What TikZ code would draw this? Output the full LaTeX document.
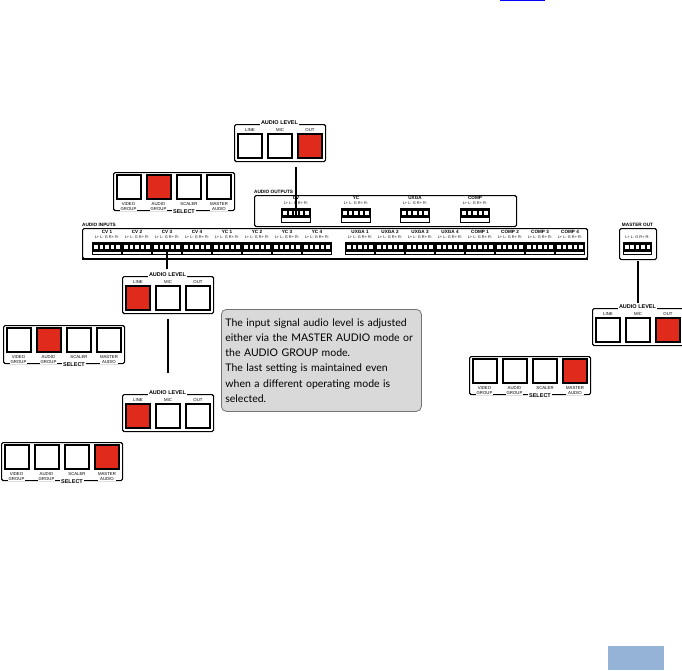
\documentclass[tikz,border=0pt]{standalone}
\usepackage{fontspec}
\setmainfont{Liberation Sans}
\newfontfamily\notefont{Lato}
\definecolor{ledred}{HTML}{E02B1C}
\definecolor{notegray}{HTML}{D9D9D9}
\definecolor{tabblue}{HTML}{95B3D7}
\tikzset{
  panel/.style={draw=black, line width=1.1pt, rounded corners=1.5pt, anchor=north west, inner sep=0pt},
  btn/.style={draw=black, line width=2pt, minimum width=24pt, minimum height=24pt, inner sep=0pt},
  title/.style={fill=white, inner sep=0.8pt, font=\fontsize{5.5}{6}\selectfont\bfseries},
  btnlabel/.style={fill=white, inner sep=0.5pt, align=center, font=\fontsize{4.3}{5.2}\selectfont},
  pinlabel/.style={inner sep=0pt, text=black!90, font=\fontsize{3.9}{4}\selectfont},
  blkname/.style={inner sep=0pt, font=\fontsize{4.6}{5}\selectfont\bfseries},
  frametitle/.style={anchor=west, inner sep=0pt, font=\fontsize{4.7}{5}\selectfont\bfseries},
  wire/.style={draw=black, line width=1.7pt},
  blk/.style={draw=black, line width=0.6pt, fill=white, minimum width=28.5pt, minimum height=12.5pt, inner sep=0pt,
    path picture={
      \fill[black] ([yshift=-10pt]path picture bounding box.north west) rectangle (path picture bounding box.north east);
      \foreach \k in {-2,...,2}
        \fill[white] ([xshift=\k*5.4pt-1.8pt, yshift=-2.8pt]path picture bounding box.north) rectangle ++(3.6,4);
    }},
  note/.style={draw=black!55, line width=0.8pt, fill=notegray, rounded corners=5pt, anchor=north west, inner ysep=0pt, inner xsep=4pt,
    minimum width=200pt, minimum height=102pt, text width=192pt, align=left,
    font=\notefont\fontsize{10.5}{15.2}\selectfont}
}
\begin{document}
\begin{tikzpicture}[x=1pt, y=-1pt]
  \useasboundingbox (0,0) rectangle (682,670);

  \draw[blue, line width=1pt] (500,0.5) -- (545,0.5);
  \fill[tabblue] (608,646) rectangle (664,670);

  % audio level panels
  \foreach \name/\x/\y/\lit in {lvla/234/124/3, lvlb/122/276/1, lvlc/122/394/1, lvld/592/308/3} {
    \node[panel, minimum width=91pt, minimum height=37pt] (\name) at (\x,\y) {};
    \node[title] (\name title) at (\x+45.5,\y-1) {AUDIO LEVEL};
    \foreach \k/\cx/\txt in {1/16/LINE, 2/46/MIC, 3/76/OUT} {
      \ifnum\k=\lit\def\bg{ledred}\else\def\bg{white}\fi
      \node[btn, fill=\bg] (\name b\k) at (\x+\cx,\y+22) {};
      \node[btnlabel] (\name l\k) at (\x+\cx,\y+6) {\txt};
    }
  }

  % select panels
  \foreach \name/\x/\y/\lit in {sela/113/172/2, selb/3/325/2, selc/1/442/4, seld/469/356/4} {
    \node[panel, minimum width=121pt, minimum height=38pt] (\name) at (\x,\y) {};
    \foreach \k/\cx/\txt in {1/15.5/VIDEO\\GROUP, 2/45.5/AUDIO\\GROUP, 3/76/SCALER, 4/106/MASTER\\AUDIO} {
      \ifnum\k=\lit\def\bg{ledred}\else\def\bg{white}\fi
      \node[btn, fill=\bg] (\name b\k) at (\x+\cx,\y+15) {};
      \node[btnlabel, anchor=north] (\name l\k) at (\x+\cx,\y+29.5) {\txt};
    }
    \node[title] (\name title) at (\x+71,\y+39.5) {SELECT};
  }

  % audio outputs
  \node[panel, minimum width=262pt, minimum height=31pt] (outputs) at (254,195) {};
  \node[frametitle, fill=white] (outputstitle) at (254,192) {AUDIO OUTPUTS};
  \foreach \name/\cx/\lab in {oCV/296/CV, oYC/356/YC, oUXGA/415/UXGA, oCOMP/475/COMP} {
    \node[blk, minimum height=14pt] (\name) at (\cx,215) {};
    \node[blkname] (\name n) at (\cx,198) {\lab};
    \node[pinlabel] (\name p) at (\cx,203) {L+ L- G R+ R-};
  }

  % audio inputs
  \node[panel, minimum width=505pt, minimum height=30pt] (inputs) at (82,228) {};
  \draw[line width=1.8pt] (inputs.south west) -- (inputs.south east);
  \node[frametitle] (inputstitle) at (82,225) {AUDIO INPUTS};
  \foreach \pre/\x in {CV/107, YC/227, UXGA/360, COMP/480} {
    \foreach \n in {1,...,4} {
      \pgfmathsetmacro\cx{\x+30*(\n-1)}
      \node[blk] (\pre\n) at (\cx,248.5) {};
      \node[blkname] (\pre\n n) at (\cx,232) {\pre\ \n};
      \node[pinlabel] (\pre\n p) at (\cx,237.5) {L+ L- G R+ R-};
    }
  }

  % master out
  \node[panel, minimum width=37pt, minimum height=31pt] (mout) at (619,228) {};
  \node[frametitle, anchor=center] (mouttitle) at (637.5,225) {MASTER OUT};
  \node[blk] (moutblk) at (637.5,248.5) {};
  \node[pinlabel] (moutp) at (637.5,237.5) {L+ L- G R+ R-};

  % note
  \node[note] (notebox) at (221,309) {The input signal audio level is adjusted\\
    either via the MASTER AUDIO mode or\\
    the AUDIO GROUP mode.\\
    The last setting is maintained even\\
    when a different operating mode is\\
    selected.};

  % connectors
  \draw[wire] ([yshift=-5pt]oCV.center |- lvla.south) -- (oCV.center);
  \draw[wire] ([yshift=3pt]CV3.south) -- ([yshift=-14pt]CV3.south);
  \draw[wire] ([yshift=-5pt]lvlb.south) -- ([yshift=21pt]lvlc.north);
  \draw[wire] ([yshift=-1pt]mout.south) -- ([yshift=5pt]lvld.north);
\end{tikzpicture}
\end{document}
